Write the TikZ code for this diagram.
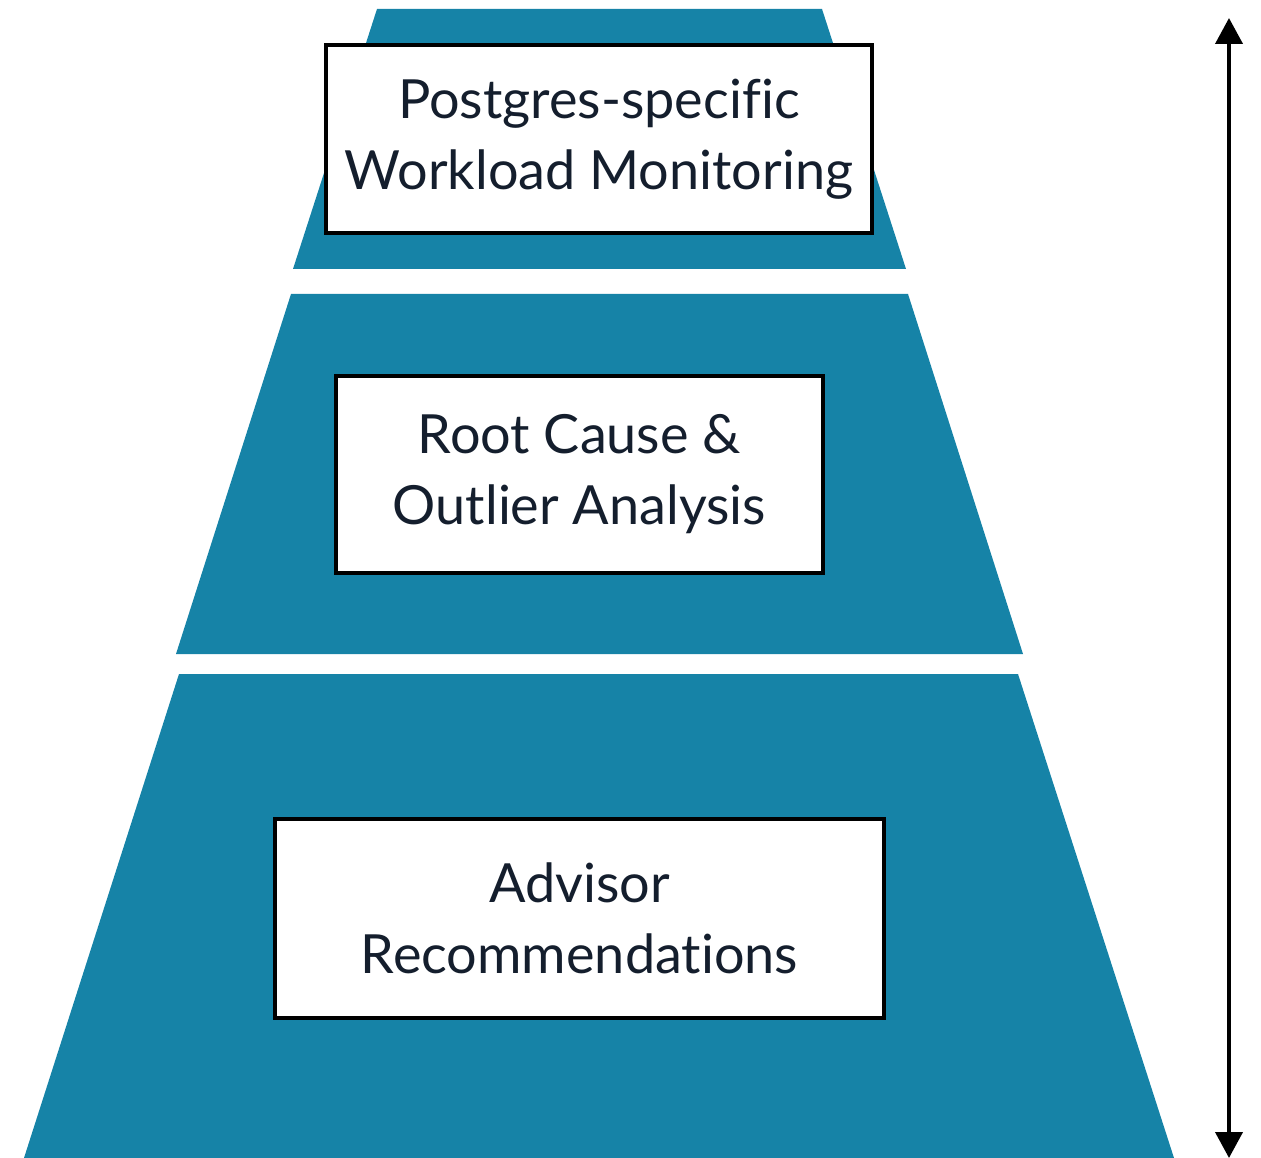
\documentclass[tikz,border=0pt]{standalone}
\usepackage{fontspec}
\setmainfont{Lato}[Ligatures={NoCommon}]
\usetikzlibrary{arrows.meta}
\definecolor{tier}{RGB}{22,131,167}
\definecolor{ink}{RGB}{20,30,45}
\begin{document}
\begin{tikzpicture}[x=1pt,y=-1pt,
  tierfill/.style={fill=tier,draw=none},
  labelbox/.style={draw=black,line width=3.5pt,fill=white,inner sep=0pt,
    align=center,text=ink,font=\fontsize{54}{71}\selectfont}]
\useasboundingbox (0,0) rectangle (1261,1158);
% pyramid tiers
\fill[tier] (377,9) -- (822,9) -- (906,269) -- (293,269) -- cycle;
\fill[tier] (291,294) -- (908,294) -- (1023,654) -- (176,654) -- cycle;
\fill[tier] (179,674) -- (1018,674) -- (1174,1158) -- (24,1158) -- cycle;
% labels
\node[labelbox,minimum width=546pt,minimum height=188pt] (mon) at (599,139)
  {Postgres-specific\\Workload Monitoring};
\node[labelbox,minimum width=487pt,minimum height=197pt] (rca) at (579.5,474.5)
  {Root Cause \&\\Outlier Analysis};
\node[labelbox,minimum width=609pt,minimum height=199pt] (adv) at (579.5,918.5)
  {Advisor\\Recommendations};
% double-headed scale arrow
\coordinate (top) at (1229,18);
\coordinate (bot) at (1229,1158);
\draw[line width=4pt,{Triangle[length=26pt,width=27pt]}-{Triangle[length=26pt,width=27pt]}] (top) -- (bot);
\end{tikzpicture}
\end{document}
